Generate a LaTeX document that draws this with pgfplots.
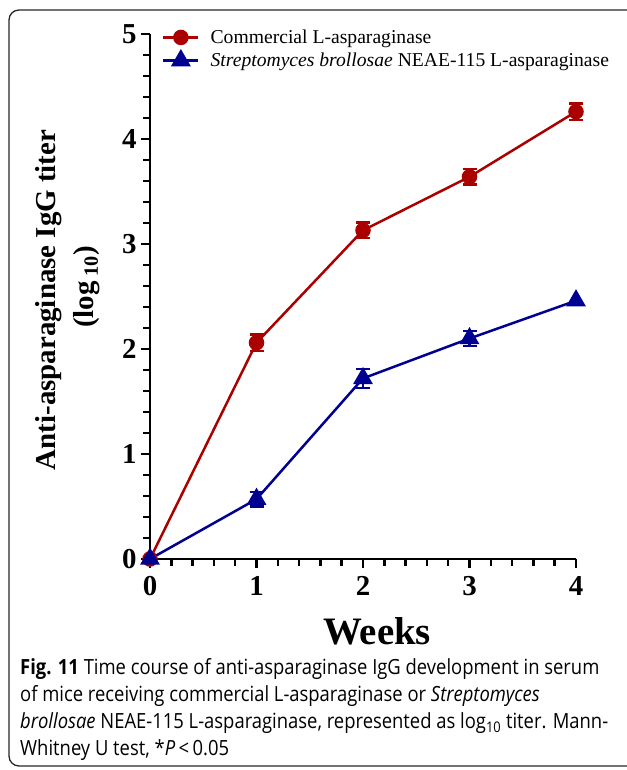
\documentclass[border=0pt]{standalone}
\usepackage{fontspec}
\setmainfont{Liberation Serif}
\newfontfamily\capfont[FakeStretch=0.88]{Open Sans}
\usepackage{pgfplots}
\usepackage{pgfplotstable}
\pgfplotsset{compat=1.18}
\definecolor{cred}{RGB}{170,0,0}
\definecolor{cblue}{RGB}{0,0,145}
\pgfplotstableread{
x y e
0 0 0
1 2.06 0.08
2 3.13 0.075
3 3.64 0.075
4 4.26 0.08
}\comm
\pgfplotstableread{
x y e
0 0 0
1 0.57 0.07
2 1.72 0.09
3 2.10 0.07
4 2.46 0.0
}\strep
\pgfplotstableread{
x y e
1 2.06 0.08
2 3.13 0.075
3 3.64 0.075
4 4.26 0.08
}\commerr
\pgfplotstableread{
x y e
1 0.57 0.07
2 1.72 0.09
3 2.10 0.07
}\streperr
\begin{document}
\begin{tikzpicture}[x=1bp,y=1bp]
\useasboundingbox (0,0) rectangle (627,770);
\draw[line width=1.3bp, black!85, rounded corners=10bp] (9,4) rectangle (645,760);
\begin{axis}[
  at={(150bp,211bp)}, anchor=south west, scale only axis,
  width=426bp, height=525bp,
  xmin=0, xmax=4, ymin=0, ymax=5,
  axis x line*=bottom, axis y line*=left,
  axis line style={line width=2.5bp, black},
  xtick={0,1,2,3,4}, ytick={0,1,2,3,4,5}, minor tick num=4,
  tick align=outside, major tick length=9bp, minor tick length=7bp,
  tick style={line width=2.5bp, black},
  ticklabel style={font=\fontsize{29}{29}\selectfont\bfseries},
  /pgf/number format/assume math mode=true,
  xticklabel style={yshift=-5bp}, yticklabel style={xshift=-1bp},
  clip=false,
  legend style={draw=none, fill=none, at={(0.028,1.012)}, anchor=north west,
    font=\fontsize{19.7}{22}\selectfont, inner sep=0pt, row sep=4bp,
    /tikz/every odd column/.style={column sep=9bp}},
  legend cell align=left,
  legend image code/.code={\draw[mark repeat=2,mark phase=2,#1] plot coordinates {(0bp,0bp) (17.5bp,0bp) (35bp,0bp)};},
]
\addplot[cred, line width=2.5bp, draw=none, mark=none, forget plot,
  error bars/.cd, y dir=both, y explicit,
  error bar style={line width=2.5bp, cred},
  error mark options={rotate=90, mark size=7bp, line width=2.5bp, cred}]
  table[x=x, y=y, y error=e] {\commerr};
\addplot[cred, line width=2.5bp, mark=*, mark size=6.5bp, mark options={solid}]
  table[x=x, y=y] {\comm};
\addlegendentry{Commercial L-asparaginase}
\addplot[cblue, line width=2.5bp, draw=none, mark=none, forget plot,
  error bars/.cd, y dir=both, y explicit,
  error bar style={line width=2.5bp, cblue},
  error mark options={rotate=90, mark size=7bp, line width=2.5bp, cblue}]
  table[x=x, y=y, y error=e] {\streperr};
\addplot[cblue, line width=2.5bp, mark=triangle*, mark size=9bp, mark options={solid}]
  table[x=x, y=y] {\strep};
\addlegendentry{\textit{Streptomyces brollosae} NEAE-115 L-asparaginase}
\end{axis}
\node[rotate=90, anchor=base, font=\fontsize{29}{29}\selectfont\bfseries] at (55,470) {Anti-asparaginase IgG titer};
\node[rotate=90, anchor=base, font=\fontsize{29}{29}\selectfont\bfseries] at (93,483) {(log\,\textsubscript{10})};
\node[anchor=base, font=\fontsize{39}{39}\selectfont\bfseries] at (377,125) {Weeks};
\begin{scope}[every node/.style={anchor=base west, inner sep=0pt, font=\capfont\fontsize{21}{27}\selectfont}]
\node at (20,95) {{\bfseries Fig. 11} Time course of anti-asparaginase IgG development in serum};
\node at (20,68) {of mice receiving commercial L-asparaginase or \textit{Streptomyces}};
\node at (20,41) {\textit{brollosae} NEAE-115 L-asparaginase, represented as log\textsubscript{10} titer. Mann-};
\node at (20,14) {Whitney U test, *\textit{P}\,<\,0.05};
\end{scope}
\end{tikzpicture}
\end{document}
